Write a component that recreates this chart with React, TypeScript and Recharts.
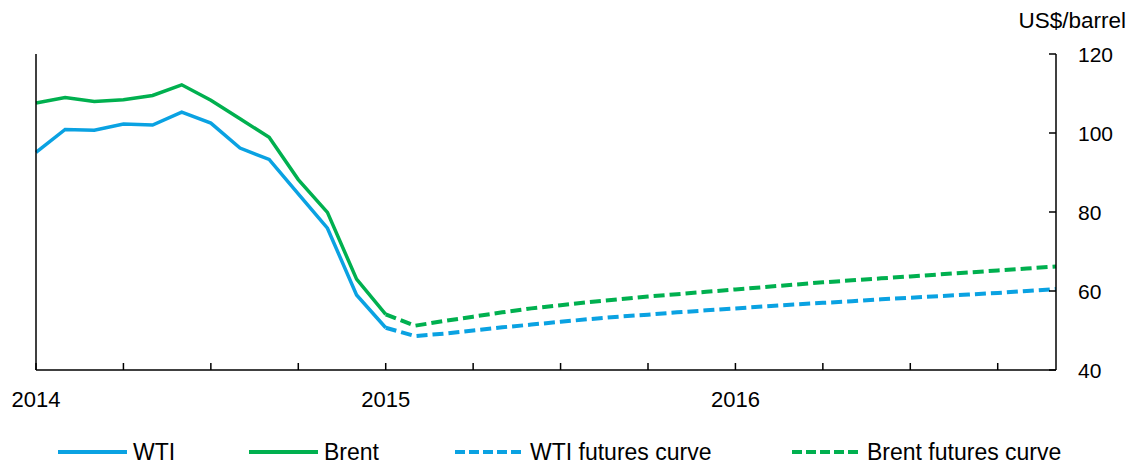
import React from 'react';
import { LineChart, Line, XAxis, YAxis, Legend } from 'recharts';

// Monthly index 0 = Jan 2014 ... 35 = Dec 2016
const monthCount = 36;
const wtiActual = [95.1, 100.9, 100.7, 102.3, 102.0, 105.3, 102.5, 96.2, 93.3, 84.6, 75.9, 59.0, 50.7];
const brentActual = [107.6, 109.0, 108.0, 108.4, 109.5, 112.2, 108.3, 103.6, 98.9, 88.2, 79.9, 63.0, 54.1];
const futuresStart = 12;
const wtiFutures = [50.7, 48.6, 49.2, 50.0, 50.8, 51.5, 52.2, 52.9, 53.5, 54.0, 54.6, 55.1, 55.6, 56.1, 56.6, 57.0, 57.4, 57.9, 58.3, 58.7, 59.1, 59.5, 60.0, 60.5];
const brentFutures = [54.1, 51.2, 52.4, 53.5, 54.6, 55.6, 56.4, 57.2, 57.9, 58.6, 59.2, 59.8, 60.4, 61.0, 61.6, 62.2, 62.7, 63.2, 63.7, 64.2, 64.7, 65.2, 65.7, 66.2];

const xTicks = [0, 3, 6, 9, 12, 15, 18, 21, 24, 27, 30, 33];
const xTickLabels: Record<number, string> = { 0: '2014', 12: '2015', 24: '2016' };
const yTicks = [40, 60, 80, 100, 120];
const unitLabel = 'US$/barrel';

const BLUE = '#0AA2E2';
const GREEN = '#00B04F';
const FONT = '"Liberation Sans", Arial, sans-serif';

const series = [
  { key: 'wti', name: 'WTI', color: BLUE, dash: undefined as string | undefined },
  { key: 'brent', name: 'Brent', color: GREEN, dash: undefined as string | undefined },
  { key: 'wtiF', name: 'WTI futures curve', color: BLUE, dash: '11 5' },
  { key: 'brentF', name: 'Brent futures curve', color: GREEN, dash: '11 5' },
];
const legendLefts = [58, 249, 455, 792];

const data = Array.from({ length: monthCount }, (_, i) => ({
  i,
  wti: i < wtiActual.length ? wtiActual[i] : null,
  brent: i < brentActual.length ? brentActual[i] : null,
  wtiF: i >= futuresStart ? wtiFutures[i - futuresStart] ?? null : null,
  brentF: i >= futuresStart ? brentFutures[i - futuresStart] ?? null : null,
}));

const XTick = (props: any) => {
  const { x, y, payload } = props;
  const label = xTickLabels[payload.value];
  return (
    <g>
      <line x1={x} x2={x} y1={y - 7} y2={y} stroke="#000" strokeWidth={1.5} />
      {label && (
        <text x={x} y={y + 37} textAnchor="middle" fontSize={22} fontFamily={FONT} fill="#000">
          {label}
        </text>
      )}
    </g>
  );
};

const LeftTick = (props: any) => {
  const { x, y } = props;
  return <line x1={x} x2={x + 7} y1={y} y2={y} stroke="#000" strokeWidth={1.5} />;
};

const RightTick = (props: any) => {
  const { x, y, payload } = props;
  return (
    <g>
      <line x1={x - 7} x2={x} y1={y} y2={y} stroke="#000" strokeWidth={1.5} />
      <text x={x + 22} y={y + 7.5} textAnchor="start" fontSize={21} fontFamily={FONT} fill="#000">
        {payload.value}
      </text>
    </g>
  );
};

const UnitLabel = (props: any) => {
  const vb = props.viewBox || {};
  return (
    <text x={vb.x + 70} y={vb.y - 26} textAnchor="end" fontSize={22.5} fontFamily={FONT} fill="#000">
      {unitLabel}
    </text>
  );
};

const LegendContent = () => (
  <div style={{ position: 'relative', width: 1132, height: 30, fontFamily: FONT, fontSize: 23 }}>
    {series.map((s, idx) => (
      <div
        key={s.key}
        style={{ position: 'absolute', left: legendLefts[idx], top: 0, height: 30, display: 'flex', alignItems: 'center', whiteSpace: 'nowrap' }}
      >
        <svg width={69} height={10} style={{ display: 'block' }}>
          <line x1={0} x2={69} y1={5} y2={5} stroke={s.color} strokeWidth={4} strokeDasharray={s.dash ? '10 4' : undefined} />
        </svg>
        <span style={{ marginLeft: 6, color: '#000', lineHeight: '30px' }}>{s.name}</span>
      </div>
    ))}
  </div>
);

export default function App() {
  return (
    <div style={{ position: 'absolute', left: 0, top: 0 }}>
      <LineChart width={1132} height={466} data={data} margin={{ top: 54, right: 0, left: 35, bottom: 46 }}>
        <XAxis
          dataKey="i"
          type="number"
          domain={[0, 35]}
          ticks={xTicks}
          interval={0}
          height={50}
          tickLine={false}
          tickSize={0}
          tickMargin={0}
          tick={<XTick />}
          axisLine={{ stroke: '#000', strokeWidth: 1.5 }}
        />
        <YAxis
          yAxisId="left"
          orientation="left"
          width={1}
          domain={[40, 120]}
          ticks={yTicks}
          interval={0}
          tickLine={false}
          tickSize={0}
          tickMargin={0}
          tick={<LeftTick />}
          axisLine={{ stroke: '#000', strokeWidth: 1.5 }}
        />
        <YAxis
          yAxisId="right"
          orientation="right"
          width={76}
          domain={[40, 120]}
          ticks={yTicks}
          interval={0}
          tickLine={false}
          tickSize={0}
          tickMargin={0}
          tick={<RightTick />}
          axisLine={{ stroke: '#000', strokeWidth: 1.5 }}
          label={<UnitLabel />}
        />
        <Legend
          layout="horizontal"
          verticalAlign="middle"
          align="center"
          wrapperStyle={{ left: 0, top: 437, width: 1132 }}
          content={<LegendContent />}
        />
        {series.map((s) => (
          <Line
            key={s.key}
            yAxisId="right"
            type="linear"
            dataKey={s.key}
            name={s.name}
            stroke={s.color}
            strokeWidth={s.dash ? 4 : 3.5}
            strokeDasharray={s.dash}
            dot={false}
            activeDot={false}
            connectNulls={false}
            isAnimationActive={false}
          />
        ))}
      </LineChart>
    </div>
  );
}
